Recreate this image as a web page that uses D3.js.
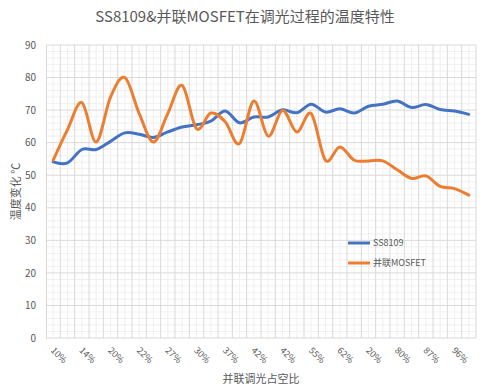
<!DOCTYPE html>
<html>
  <head>
    <meta charset="utf-8">
    <title>SS8109 温度特性</title>
    <script src="https://cdn.jsdelivr.net/npm/d3@7/dist/d3.min.js"></script>
    <style>
      body { margin: 0; background: #fff; }
      text { font-family: "Noto Sans CJK SC", "Liberation Sans", sans-serif; fill: #595959; }
    </style>
  </head>
  <body>
    <svg width="490" height="389" id="mainsvg"></svg>
    <script>
        // @数据
        const tickLabels = ['10%', '14%', '20%', '22%', '27%', '30%', '37%', '42%',
            '42%', '55%', '62%', '20%', '80%', '87%', '96%'];
        const seriesNames = ['SS8109', '并联MOSFET'];
        const ss8109 = [54.1, 53.8, 57.9, 57.9, 60.4, 63.0, 62.6, 61.6, 63.3, 64.8,
            65.5, 66.6, 69.7, 66.1, 67.9, 67.9, 70.1, 69.2, 71.8, 69.4,
            70.4, 69.1, 71.2, 71.8, 72.8, 70.8, 71.7, 70.2, 69.7, 68.7];
        const mosfet = [54.6, 64.0, 72.3, 60.2, 74.0, 80.0, 69.0, 60.2, 69.0, 77.6,
            64.3, 69.1, 66.4, 59.7, 72.8, 62.0, 69.9, 63.3, 68.9, 54.6,
            58.7, 54.6, 54.4, 54.4, 51.7, 49.0, 49.8, 46.6, 45.9, 43.9];
        const colors = ['#4472C4', '#ED7D31'];

        // @设置画布
        const svg = d3.select('#mainsvg');
        const width = +svg.attr('width');
        const height = +svg.attr('height');
        const margin = {top: 45, right: 14, bottom: 51, left: 46};
        const innerWidth = width - margin.left - margin.right;
        const innerHeight = height - margin.top - margin.bottom;

        const g = svg.append('g')
            .attr('transform', `translate(${margin.left}, ${margin.top})`);

        const idx = d3.range(ss8109.length);
        const x = d3.scaleBand().domain(idx).range([0, innerWidth]);
        const y = d3.scaleLinear().domain([0, 90]).range([innerHeight, 0]);

        // minor grid
        g.append('g').selectAll('line').data(d3.range(0, 91, 2).filter(v => v % 10 !== 0))
            .join('line')
            .attr('x1', 0).attr('x2', innerWidth)
            .attr('y1', d => y(d)).attr('y2', d => y(d))
            .attr('stroke', '#f0f0f0');
        g.append('g').selectAll('line').data(idx)
            .join('line')
            .attr('x1', d => x(d) + x.bandwidth() / 2).attr('x2', d => x(d) + x.bandwidth() / 2)
            .attr('y1', 0).attr('y2', innerHeight)
            .attr('stroke', '#f0f0f0');

        // major grid
        g.append('g').selectAll('line').data(d3.range(10, 91, 10))
            .join('line')
            .attr('x1', 0).attr('x2', innerWidth)
            .attr('y1', d => y(d)).attr('y2', d => y(d))
            .attr('stroke', '#d9d9d9');
        g.append('g').selectAll('line').data(idx.map(i => i + 1))
            .join('line')
            .attr('x1', d => d * x.step()).attr('x2', d => d * x.step())
            .attr('y1', 0).attr('y2', innerHeight)
            .attr('stroke', '#d9d9d9');

        // axes
        const yAxis = d3.axisLeft(y).tickValues(d3.range(0, 91, 10)).tickSize(0).tickPadding(10);
        g.append('g').call(yAxis)
            .call(a => a.select('.domain').attr('stroke', '#d9d9d9'))
            .selectAll('text').attr('font-size', 10).attr('fill', '#595959');
        g.append('line')
            .attr('x1', 0).attr('x2', innerWidth)
            .attr('y1', innerHeight).attr('y2', innerHeight)
            .attr('stroke', '#d9d9d9');

        // x tick labels (every other category)
        g.append('g').selectAll('text').data(tickLabels)
            .join('text')
            .attr('transform', (d, i) => `translate(${x(i * 2) + x.bandwidth() / 2 - 3}, ${innerHeight + 13}) rotate(45)`)
            .attr('font-size', 9)
            .text(d => d);

        // lines
        const line = d3.line()
            .x((d, i) => x(i) + x.bandwidth() / 2)
            .y(d => y(d))
            .curve(d3.curveCardinal.tension(0));
        [ss8109, mosfet].forEach((s, k) => {
            g.append('path')
                .datum(s)
                .attr('d', line)
                .attr('fill', 'none')
                .attr('stroke', colors[k])
                .attr('stroke-width', 3)
                .attr('stroke-linecap', 'round');
        });

        // title
        svg.append('text')
            .attr('x', width / 2).attr('y', 22)
            .attr('text-anchor', 'middle')
            .attr('font-size', 15)
            .text('SS8109&并联MOSFET在调光过程的温度特性');

        // axis titles
        svg.append('text')
            .attr('transform', `translate(20, ${margin.top + innerHeight / 2}) rotate(-90)`)
            .attr('text-anchor', 'middle')
            .attr('font-size', 11)
            .text('温度变化 ℃');
        svg.append('text')
            .attr('x', margin.left + innerWidth / 2).attr('y', 383)
            .attr('text-anchor', 'middle')
            .attr('font-size', 11)
            .text('并联调光占空比');

        // legend
        const legend = svg.selectAll('.legend').data(seriesNames)
            .join('g')
            .attr('class', 'legend')
            .attr('transform', (d, i) => `translate(348, ${243 + i * 20})`);
        legend.append('line')
            .attr('x1', 0).attr('x2', 22)
            .attr('stroke', (d, i) => colors[i])
            .attr('stroke-width', 3);
        legend.append('text')
            .attr('x', 25).attr('dy', '0.35em')
            .attr('font-size', 9)
            .text(d => d);
    </script>
  </body>
</html>
